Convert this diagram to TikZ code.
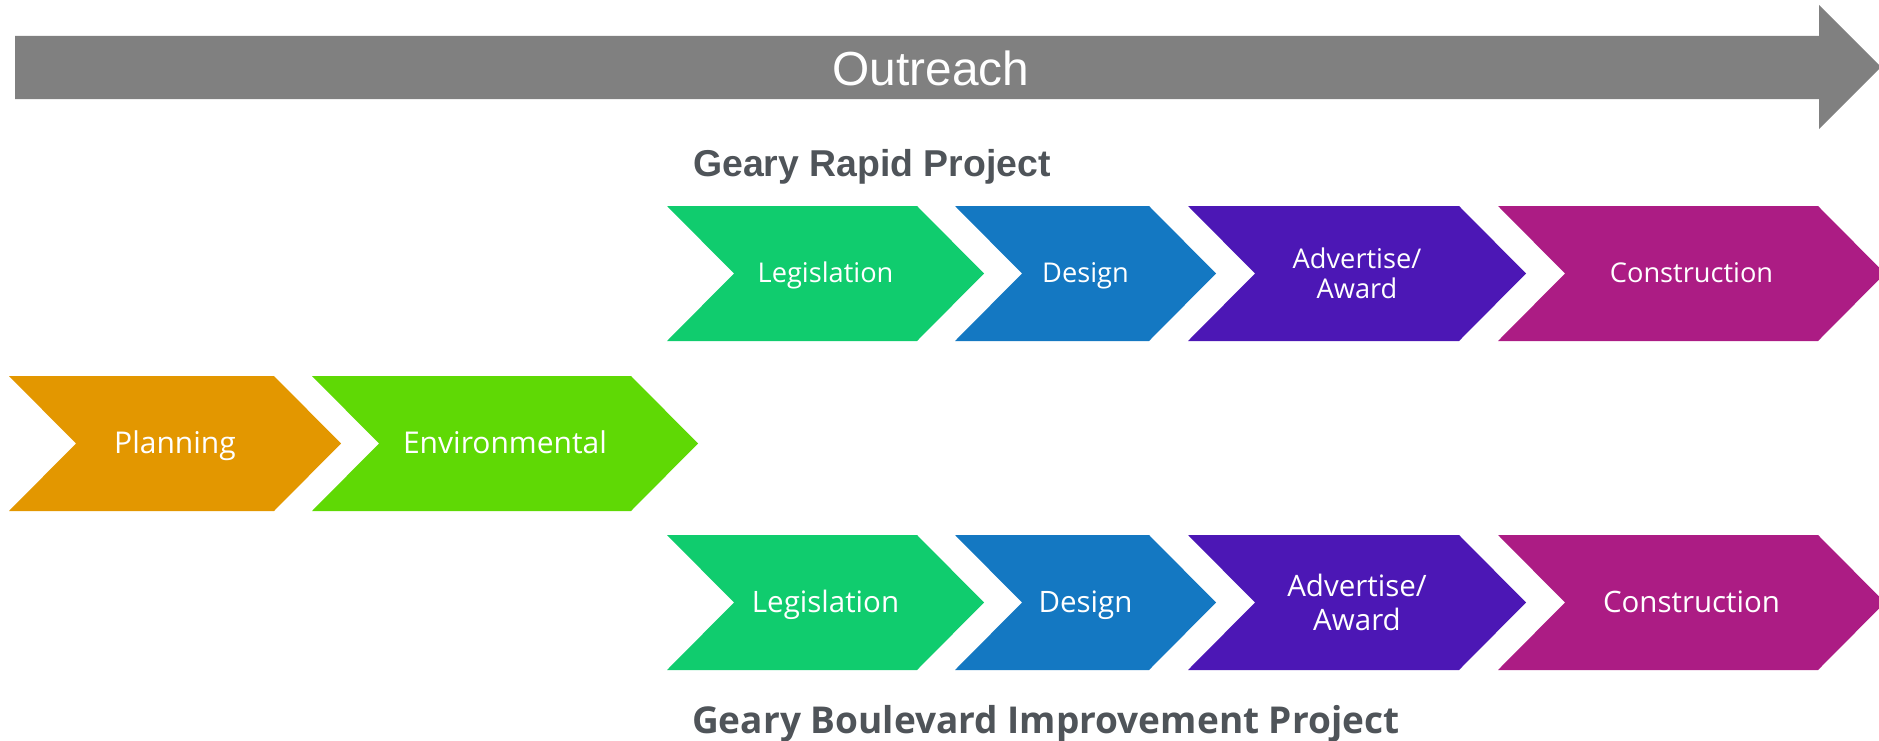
\documentclass[tikz,border=0pt]{standalone}
\usepackage{fontspec}
\setmainfont{Liberation Sans}
\newfontfamily\lblfont{Open Sans}
\newfontfamily\arialfont{Liberation Sans}
\definecolor{outgray}{HTML}{808080}
\definecolor{cplan}{HTML}{E39700}
\definecolor{cenv}{HTML}{5FD905}
\definecolor{cleg}{HTML}{10CC6E}
\definecolor{cdes}{HTML}{1478C2}
\definecolor{cadv}{HTML}{4C17B5}
\definecolor{ccon}{HTML}{AC1C84}
\definecolor{titlegray}{HTML}{4F5459}
% #1 name, #2 left x, #3 right top-corner x, #4 mid y, #5 colour, #6 label style, #7 text
\newcommand{\chevshape}[7]{%
  \fill[#5] (#2,#4-67.5) -- (#3,#4-67.5) -- (#3+67,#4) -- (#3,#4+67.5) -- (#2,#4+67.5) -- (#2+67,#4) -- cycle;
  \node[chevlabel,#6] (#1) at ({(#2+67+#3)/2},#4) {#7};
}
\begin{document}
\begin{tikzpicture}[x=1bp,y=-1bp,
  chevlabel/.style={text=white,align=center,inner sep=0pt,anchor=center},
  upfont/.style={font=\lblfont\fontsize{27.2bp}{30.5bp}\selectfont},
  midfont/.style={font=\lblfont\fontsize{30bp}{34bp}\selectfont},
  lowfont/.style={font=\lblfont\fontsize{29.5bp}{34bp}\selectfont},
  upone/.style={upfont,text height=18.6bp,text depth=0pt},
  midone/.style={midfont,text height=20.8bp,text depth=0pt},
  lowone/.style={lowfont,text height=20.5bp,text depth=0pt},
  titlelabel/.style={text=titlegray,anchor=base west,inner sep=0pt}]
\useasboundingbox (0,0) rectangle (1879,741);
% Outreach arrow
\fill[outgray] (15,36) -- (1819,36) -- (1819,5) -- (1881,67) -- (1819,129) -- (1819,99) -- (15,99) -- cycle;
\node[text=white,inner sep=0pt,anchor=base,font=\arialfont\fontsize{47.8bp}{56bp}\selectfont] (outreach) at (931,86) {Outreach};
% titles
\node[titlelabel,font=\arialfont\bfseries\fontsize{37.4bp}{44bp}\selectfont] (rapid) at (693,176) {Geary Rapid Project};
\node[titlelabel,font=\lblfont\bfseries\fontsize{37bp}{44bp}\selectfont] (gbip) at (692,733) {Geary Boulevard Improvement Project};
% middle row
\chevshape{plan}{9}{274}{443.5}{cplan}{midone}{Planning}
\chevshape{env}{312}{631}{443.5}{cenv}{midone}{Environmental}
% upper row
\chevshape{leg1}{667}{917}{273.5}{cleg}{upone}{Legislation}
\chevshape{des1}{955}{1149}{273.5}{cdes}{upone}{Design}
\chevshape{adv1}{1188}{1459}{273.5}{cadv}{upfont}{Advertise/\\Award}
\chevshape{con1}{1498}{1818}{273.5}{ccon}{upone}{Construction}
% lower row
\chevshape{leg2}{667}{917}{602.5}{cleg}{lowone}{Legislation}
\chevshape{des2}{955}{1149}{602.5}{cdes}{lowone}{Design}
\chevshape{adv2}{1188}{1459}{602.5}{cadv}{lowfont}{Advertise/\\Award}
\chevshape{con2}{1498}{1818}{602.5}{ccon}{lowone}{Construction}
\end{tikzpicture}
\end{document}
